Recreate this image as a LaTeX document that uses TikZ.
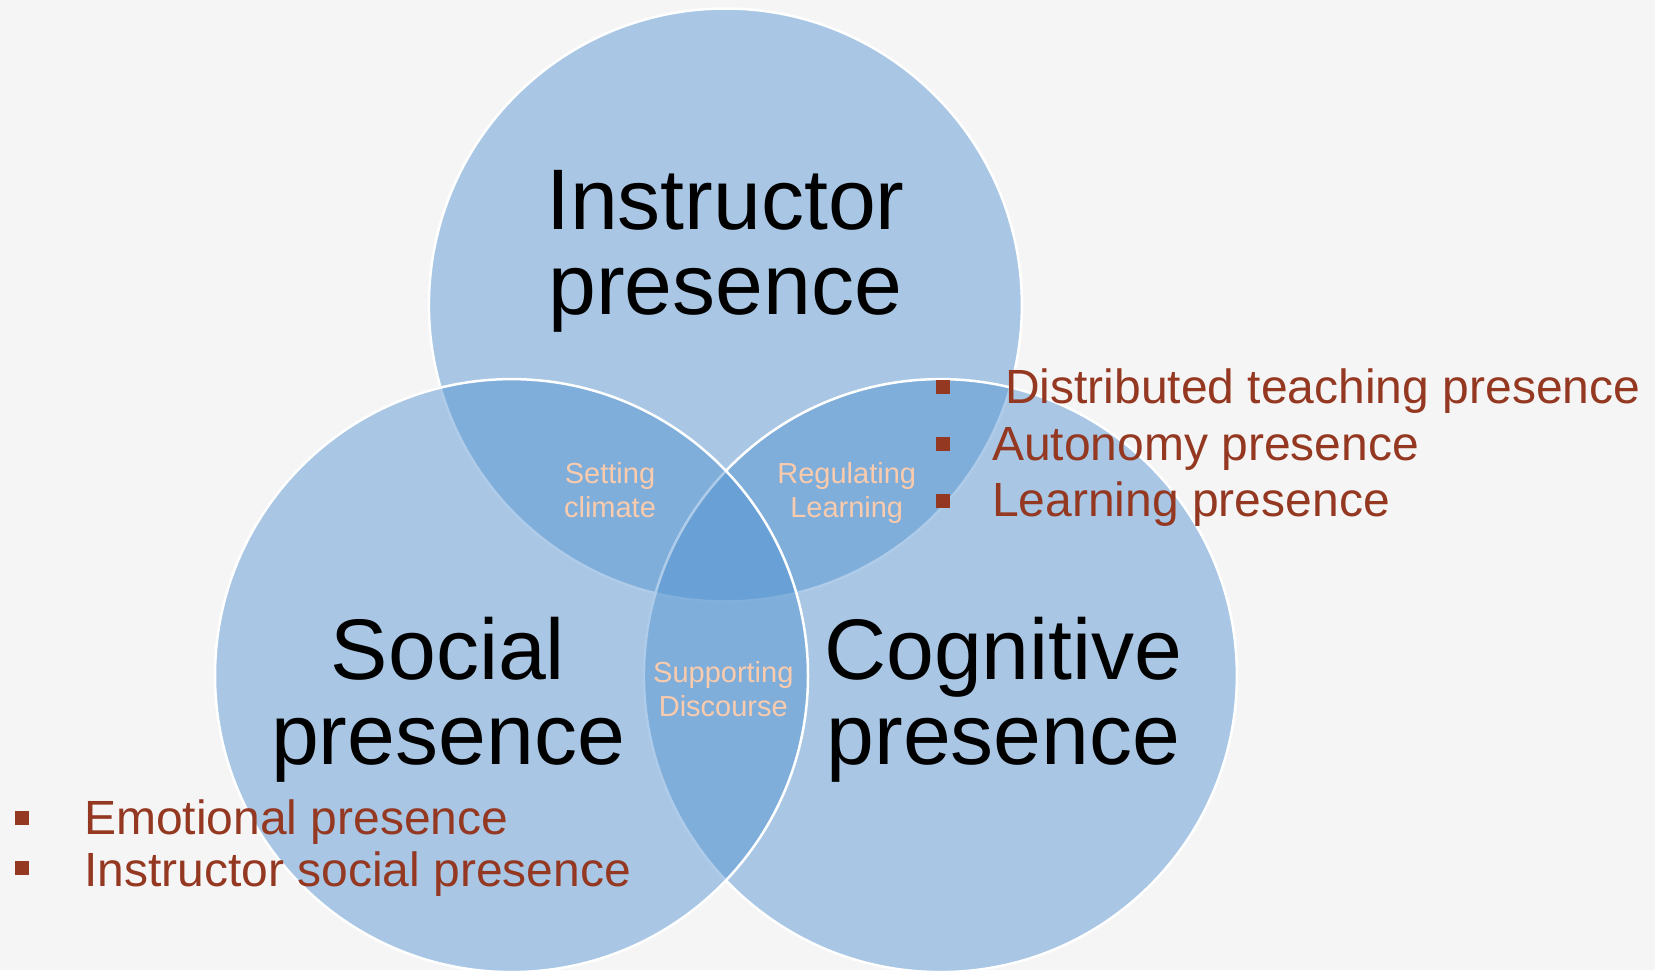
\documentclass[tikz,border=0pt]{standalone}
\usepackage{fontspec}
\setmainfont{Liberation Sans}
\usetikzlibrary{positioning}
\definecolor{pagebg}{RGB}{245,245,245}
\definecolor{vennblue}{RGB}{80,145,208}
\definecolor{itemred}{RGB}{148,56,34}
\definecolor{peach}{RGB}{250,203,172}

\begin{document}
\begin{tikzpicture}[x=1pt,y=-1pt]
\tikzset{V/.style={circle,minimum size=593pt,inner sep=0pt,draw=white,line width=2.5pt,fill=vennblue,fill opacity=0.46}}
\tikzset{T/.style={font=\fontsize{86}{85}\selectfont,align=center,anchor=base,inner sep=0pt}}
\tikzset{S/.style={font=\fontsize{29}{34}\selectfont,align=center,anchor=base,inner sep=0pt,text=peach}}
\tikzset{I/.style={font=\fontsize{48}{52}\selectfont,anchor=base west,inner sep=0pt,text=itemred}}
\tikzset{B/.style={rectangle,minimum size=14pt,inner sep=0pt,fill=itemred}}

  \fill[pagebg] (0,0) rectangle (1655,970);
  \useasboundingbox (0,0) rectangle (1655,970);

  % the three presences
  \node[V] (instr) at (725.4,305) {};
  \node[V] (cogn) at (940.4,675.6) {};
  \node[V] (soc) at (511.5,675.6) {};

  \node[T] (instrlbl) at (725.4,314.5) {Instructor\\presence};
  \node[T] (soclbl) at (448,764.6) {Social\\presence};
  \node[T] (cognlbl) at (1003.5,764.6) {Cognitive\\presence};

  % overlaps
  \node[S] (climate) at (610,517.3) {Setting\\climate};
  \node[S] (regul) at (846.7,517.3) {Regulating\\Learning};
  \node[S] (discourse) at (723.3,716) {Supporting\\Discourse};

  % items
  \node[B] (b1) at (943.3,387) {};
  \node[B] (b2) at (943.3,444) {};
  \node[B] (b3) at (943.3,501) {};
  \node[I] (distrib) at (1005,403.3) {Distributed teaching presence};
  \node[I] (auton) at (992,460) {Autonomy presence};
  \node[I] (learn) at (992,516.7) {Learning presence};

  \node[B] (b4) at (22,818.3) {};
  \node[B] (b5) at (22,868.3) {};
  \node[I] (emot) at (84,834) {Emotional presence};
  \node[I] (instrsoc) at (84,886) {Instructor social presence};
\end{tikzpicture}
\end{document}
